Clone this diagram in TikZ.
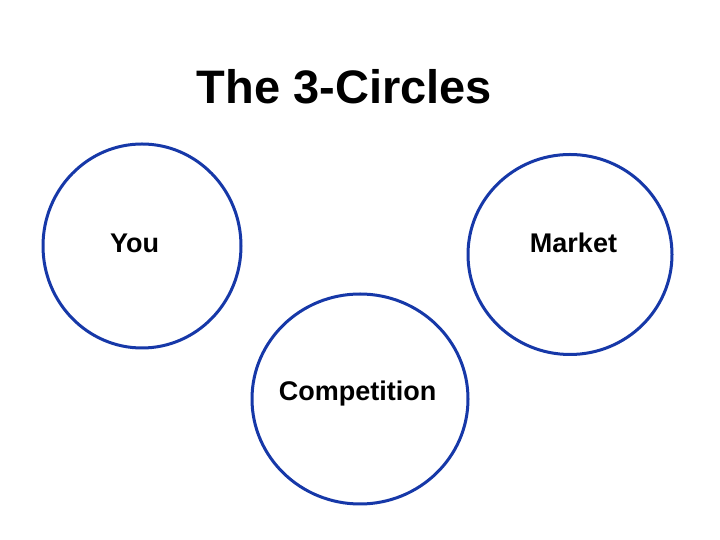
\documentclass[tikz,border=0pt]{standalone}
\usepackage{fontspec}
\setmainfont{Liberation Sans}
\definecolor{ringblue}{RGB}{22,56,168}
\begin{document}
\begin{tikzpicture}[x=1pt,y=1pt,
  ring/.style={draw=ringblue,line width=3pt},
  lbl/.style={font=\fontsize{27}{30}\selectfont\bfseries,text=black,inner sep=0pt}]
\useasboundingbox (0,0) rectangle (720,540);
\fill[white] (0,0) rectangle (720,540);
\node[font=\fontsize{47}{52}\selectfont\bfseries,inner sep=0pt] (title) at (344.5,453) {The 3-Circles};
\draw[ring] (142,294) ellipse [x radius=99,y radius=102];
\draw[ring] (570,285.5) ellipse [x radius=102,y radius=100];
\draw[ring] (360,141) ellipse [x radius=108,y radius=105];
\node[lbl] (you) at (134.5,297) {You};
\node[lbl] (market) at (573.5,297) {Market};
\node[lbl] (comp) at (357.5,146) {Competition};
\end{tikzpicture}
\end{document}
